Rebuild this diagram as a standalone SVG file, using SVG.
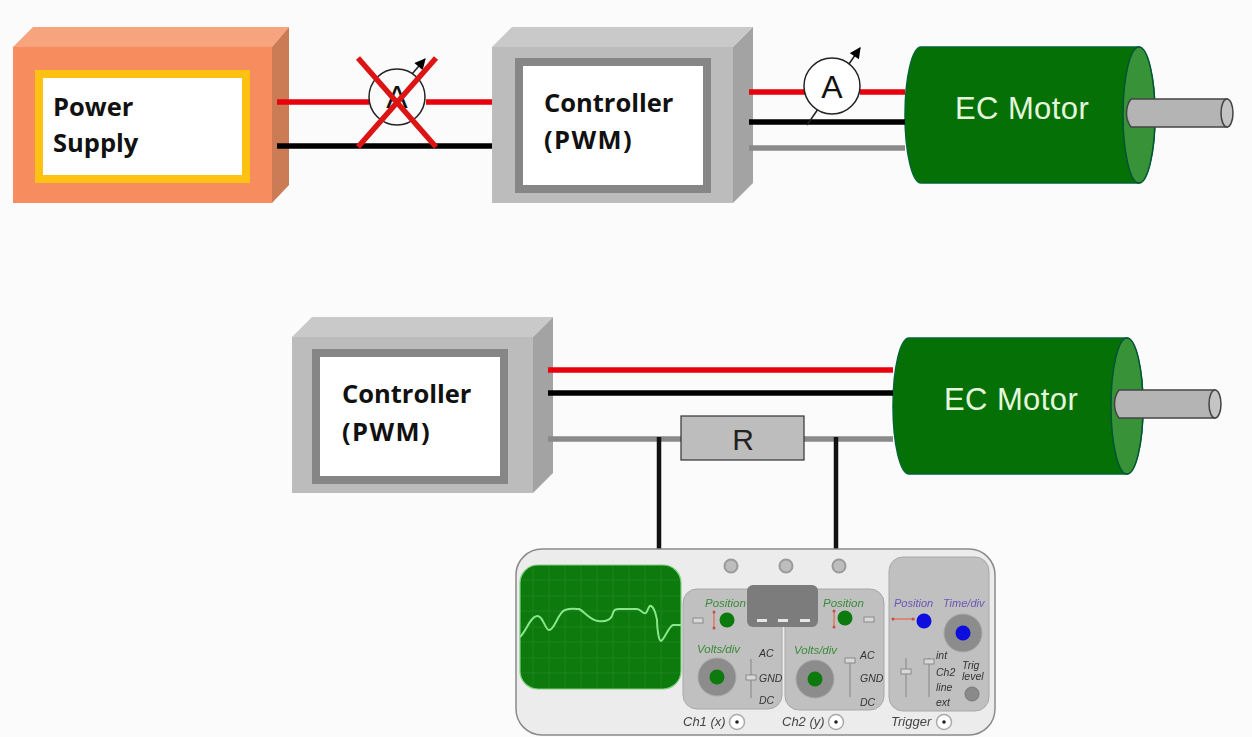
<svg xmlns="http://www.w3.org/2000/svg" width="1252" height="737" viewBox="0 0 1252 737">
<style>
.lbl{font-family:"Open Sans","Noto Sans","Liberation Sans",sans-serif;font-weight:700;font-size:25.5px;fill:#111}
.pwm{letter-spacing:1.4px}
.mot{font-family:"Liberation Sans",sans-serif;font-size:31px;letter-spacing:.4px;fill:#e4f7dc}
.sm{font-family:"Liberation Sans",sans-serif;font-style:italic;font-size:10.5px;fill:#333}
.sm.gr{font-size:11.5px;fill:#3a8a3a}.sm.pu{font-size:11px;fill:#6a55b5}
.ch{font-family:"Liberation Sans",sans-serif;font-style:italic;font-size:13px;fill:#444}
.amp{font-family:"Liberation Sans",sans-serif;font-size:32px;fill:#111}
.panel{fill:#c0c0c0;stroke:#a8a8a8;stroke-width:1}
.knobG{fill:#8c8c8c;stroke:#a8a8a8;stroke-width:1}
.led{fill:#bdbdbd;stroke:#9a9a9a;stroke-width:2}
.slit{fill:#d8d8d8;stroke:#8a8a8a;stroke-width:1}
.sl{stroke:#999;stroke-width:1.5;fill:none}
.w{fill:none;stroke-width:5.5}
.r{stroke:#e8000c}.k{stroke:#000}.g{stroke:#8a8a8a}
.v{fill:none;stroke:#111;stroke-width:4.5}
.thin{fill:none;stroke:#222;stroke-width:1.5}
.dots{fill:none;stroke:#e07a60;stroke-width:1.5}
.frame{fill:#fff;stroke:#868686;stroke-width:8}
</style>
<defs>
<marker id="ah" viewBox="0 0 10 10" refX="9" refY="5" markerWidth="12" markerHeight="11" orient="auto" markerUnits="userSpaceOnUse"><path d="M0 0L10 5L0 10z" fill="#000"/></marker>
<filter id="soft" x="-2%" y="-2%" width="104%" height="104%"><feGaussianBlur stdDeviation="0.45"/></filter>
<g id="motor">
<path d="M16 0H233A17 68 0 0 1 233 136H16A16 68 0 0 1 16 0Z" fill="#057005" stroke="#063" stroke-width="1.5"/>
<ellipse cx="234" cy="68" rx="16" ry="68" fill="#389238" stroke="#053" stroke-width="1.5"/>
<path d="M226 52H322V80H226C220 72 220 60 226 52Z" fill="#b4b4b4" stroke="#444" stroke-width="1.5"/>
<ellipse cx="322" cy="66" rx="6" ry="14" fill="#c4c4c4" stroke="#444" stroke-width="1.5"/>
</g>
<g id="greybox">
<polygon points="0,20 20,0 261,0 241,20" fill="#c9c9c9"/>
<rect x="0" y="20" width="241" height="156" fill="#bcbcbc"/>
<polygon points="241,20 261,0 261,156 241,176" fill="#a3a3a3"/>
</g>
<g id="jack"><circle r="7.5" fill="#fff" stroke="#aaa" stroke-width="1.5"/><circle r="1.8" fill="#222"/></g>
</defs>
<rect width="1252" height="737" fill="#fbfbfb"/>
<g id="power-supply">
<polygon points="13,47 33,27 289,27 272,47" fill="#f6a37e"/>
<rect x="13" y="47" width="259" height="156" fill="#f78d5f"/>
<polygon points="272,47 289,27 289,185 272,203" fill="#cc7c55"/>
<rect x="39" y="74" width="207" height="105" fill="#fff" stroke="#fdc114" stroke-width="8"/>
<text class="lbl" x="53" y="116">Power</text>
<text class="lbl" x="53" y="152">Supply</text>
</g>
<g id="controller-1">
<use href="#greybox" x="492" y="27"/>
<rect class="frame" x="519" y="62" width="188" height="127"/>
<text class="lbl" x="544" y="112">Controller</text>
<text class="lbl pwm" x="544" y="149">(PWM)</text>
</g>
<g id="controller-2">
<use href="#greybox" x="292" y="317"/>
<rect class="frame" x="316" y="353" width="188" height="127"/>
<text class="lbl" x="342" y="403">Controller</text>
<text class="lbl pwm" x="342" y="441">(PWM)</text>
</g>
<g id="motor-1">
<use href="#motor" x="905" y="47"/>
<text class="mot" x="955" y="119">EC Motor</text>
</g>
<g id="motor-2">
<use href="#motor" x="893" y="338"/>
<text class="mot" x="944" y="410">EC Motor</text>
</g>
<g id="connectors">
<path class="w r" d="M277 102H369M426 102H492"/>
<path class="w k" d="M277 146H492"/>
<path class="w r" d="M749 92H805M860 92H905"/>
<path class="w k" d="M749 122H905"/>
<path class="w g" d="M749 148H905"/>
<path class="w r" d="M548 370H893"/>
<path class="w k" d="M548 393H893"/>
<path class="w g" d="M548 439H681M804 439H893"/>
<path class="v" d="M659 437V549M836 437V549"/>
</g>
<g id="ammeter-crossed">
<circle cx="397" cy="97" r="28" fill="none" stroke="#222" stroke-width="1.5"/>
<text class="amp" x="397" y="108" text-anchor="middle">A</text>
<path class="thin" marker-end="url(#ah)" d="M412 74L425 59"/>
<path d="M358 58L436 147M436 58L358 147" stroke="#dc1414" stroke-width="5.5" fill="none"/>
</g>
<g id="ammeter">
<path class="thin" marker-end="url(#ah)" d="M807 125L860 48"/>
<circle cx="832" cy="86" r="28" fill="#fff" stroke="#222" stroke-width="1.5"/>
<text class="amp" x="832" y="98" text-anchor="middle">A</text>
</g>
<g id="resistor">
<rect x="681" y="416" width="123" height="44" fill="#bdbdbd" stroke="#333" stroke-width="1.2"/>
<text x="743" y="450" text-anchor="middle" font-family="Liberation Sans, sans-serif" font-size="30" fill="#222">R</text>
</g>
<g id="oscilloscope" filter="url(#soft)">
<rect x="516" y="549" width="479" height="186" rx="26" fill="#ececec" stroke="#8a8a8a" stroke-width="1.5"/>
<rect x="520" y="565" width="161" height="124" rx="18" fill="#0a7a0a" stroke="#7fd07f" stroke-width="1.2"/>
<path d="M533 566V688M549 566V688M565 566V688M581 566V688M597 566V688M613 566V688M629 566V688M645 566V688M661 566V688M521 580H680M521 596H680M521 611H680M521 627H680M521 642H680M521 658H680M521 673H680" stroke="#1f861f" stroke-width=".8" fill="none"/>
<path d="M520 637C527 630 530 617 537 616C543 615 545 630 549 630C555 630 558 612 565 610C571 608 576 609 579 609C585 612 590 620 598 621C606 622 610 620 612 616C614 609 615 609 620 609L637 609C641 609 643 615 646 613C648 610 649 605 651 606C655 608 656 615 657 620C657 630 659 641 661 641C664 640 669 626 673 625L681 625" fill="none" stroke="#8be58b" stroke-width="2"/>
<circle class="led" cx="731" cy="566" r="6.5"/><circle class="led" cx="786" cy="566" r="6.5"/><circle class="led" cx="839" cy="566" r="6.5"/>
<rect class="panel" x="683" y="589" width="99" height="120" rx="14"/>
<rect class="panel" x="785" y="589" width="99" height="121" rx="14"/>
<rect class="panel" x="889" y="557" width="100" height="154" rx="14"/>
<rect x="747" y="585" width="71" height="42" rx="6" fill="#7b7b7b"/>
<rect x="757" y="619" width="10" height="3" fill="#e6e6e6"/><rect x="778" y="619" width="10" height="3" fill="#e6e6e6"/><rect x="800" y="619" width="10" height="3" fill="#e6e6e6"/>
<text class="sm gr" x="705" y="607">Position</text>
<rect class="slit" x="693" y="618" width="10" height="5"/>
<path class="dots" d="M714 612V628"/><circle cx="714" cy="612" r="1.5" fill="#c05050"/><circle cx="714" cy="628" r="1.5" fill="#c05050"/>
<circle cx="727" cy="620" r="7.5" fill="#0a7a0a"/>
<text class="sm gr" x="697" y="653">Volts/div</text>
<circle class="knobG" cx="717" cy="677" r="19"/><circle cx="717" cy="677" r="7.5" fill="#0a7a0a"/>
<path class="sl" d="M751 659V698"/><rect class="slit" x="746" y="675" width="10" height="5"/>
<text class="sm" x="759" y="657">AC</text><text class="sm" x="759" y="682">GND</text><text class="sm" x="759" y="704">DC</text>
<text class="sm gr" x="823" y="607">Position</text>
<path class="dots" d="M834 610V628"/><circle cx="834" cy="611" r="1.5" fill="#c05050"/><circle cx="834" cy="627" r="1.5" fill="#c05050"/>
<circle cx="845" cy="618" r="7.5" fill="#0a7a0a"/>
<rect class="slit" x="864" y="617" width="10" height="5"/>
<text class="sm gr" x="794" y="654">Volts/div</text>
<circle class="knobG" cx="815" cy="679" r="19"/><circle cx="815" cy="679" r="7.5" fill="#0a7a0a"/>
<path class="sl" d="M850 660V697"/><rect class="slit" x="845" y="658" width="10" height="5"/>
<text class="sm" x="860" y="659">AC</text><text class="sm" x="860" y="682">GND</text><text class="sm" x="860" y="706">DC</text>
<text class="sm pu" x="894" y="607">Position</text><text class="sm pu" x="943" y="607">Time/div</text>
<path class="dots" d="M892 619H915"/><circle cx="893" cy="619" r="1.5" fill="#c05050"/><circle cx="913" cy="619" r="1.5" fill="#c05050"/>
<circle cx="924" cy="621" r="7.5" fill="#0808e0"/>
<circle class="knobG" cx="963" cy="633" r="19"/><circle cx="963" cy="633" r="7.5" fill="#0808e0"/>
<path class="sl" d="M906 658V697M929 658V697"/><rect class="slit" x="901" y="669" width="10" height="5"/><rect class="slit" x="924" y="659" width="10" height="5"/>
<text class="sm" x="936" y="659">int</text><text class="sm" x="936" y="676">Ch2</text><text class="sm" x="936" y="691">line</text><text class="sm" x="936" y="706">ext</text>
<text class="sm" x="962" y="669">Trig</text><text class="sm" x="962" y="680">level</text>
<circle cx="972" cy="694" r="7" fill="#8a8a8a" stroke="#777"/>
<text class="ch" x="683" y="726">Ch1 (x)</text><use href="#jack" x="737" y="722"/>
<text class="ch" x="782" y="726">Ch2 (y)</text><use href="#jack" x="836" y="722"/>
<text class="ch" x="891" y="726">Trigger</text><use href="#jack" x="944" y="722"/>
</g>
</svg>
